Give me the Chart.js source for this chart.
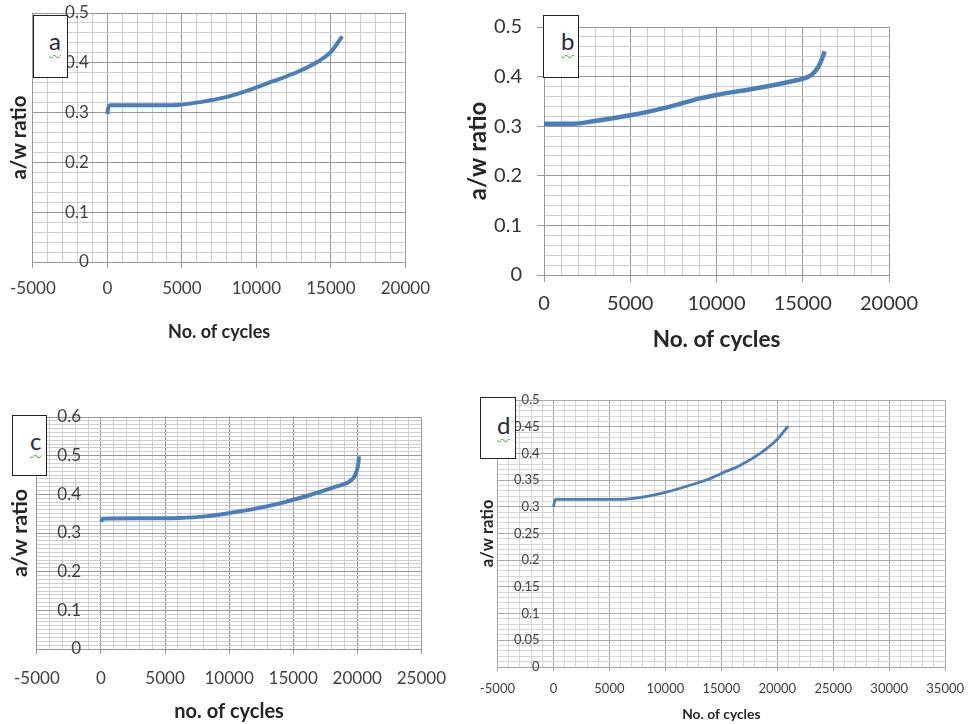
<!DOCTYPE html>
<html>
<head>
<meta charset="utf-8">
<script src="https://cdn.jsdelivr.net/npm/chart.js@4.4.1/dist/chart.umd.min.js"></script>
<style>
  body { margin: 0; width: 974px; height: 724px; position: relative; overflow: hidden; background: #fff; font-family: Lato, sans-serif; }
  .panel { position: absolute; }
  .panel canvas { display: block; }
  .tag { position: absolute; background: #fff; border: 1.5px solid #222; box-sizing: border-box; }
  .tag span { position: absolute; font-size: 24px; line-height: 24px; color: #262c3a;
    text-decoration: underline wavy #3f9f3f; text-decoration-thickness: 1px; text-underline-offset: 4px; }
</style>
</head>
<body>
<div class="panel" style="left:0;top:0"><canvas id="chartA" width="440" height="350"></canvas></div>
<div class="panel" style="left:462px;top:0"><canvas id="chartB" width="512" height="360"></canvas></div>
<div class="panel" style="left:0;top:400px"><canvas id="chartC" width="460" height="324"></canvas></div>
<div class="panel" style="left:470px;top:390px"><canvas id="chartD" width="504" height="334"></canvas></div>

<div class="tag" style="left:33px;top:15px;width:35px;height:63px"><span style="left:15px;top:13px">a</span></div>
<div class="tag" style="left:543px;top:15px;width:36px;height:63px"><span style="left:17px;top:13px">b</span></div>
<div class="tag" style="left:12px;top:415px;width:35px;height:61px"><span style="left:17px;top:13px">c</span></div>
<div class="tag" style="left:480px;top:397px;width:36px;height:62px"><span style="left:16px;top:15px">d</span></div>

<script>
// (a) values
const aCycles = [0, 90, 260, 2000, 4440, 5000, 6200, 7960, 9500, 11030, 12790, 14110, 15000, 15760];
const aRatio  = [0.297, 0.314, 0.315, 0.315, 0.315, 0.316, 0.321, 0.331, 0.345, 0.362, 0.382, 0.402, 0.422, 0.453];
const aXTicks = [-5000, 0, 5000, 10000, 15000, 20000];
const aYTicks = [0, 0.1, 0.2, 0.3, 0.4, 0.5];

// (b)
const bCycles = [0, 1700, 2860, 5000, 6530, 7880, 9030, 10000, 11350, 12900, 14440, 15020, 15500, 15890, 16140, 16270];
const bRatio  = [0.305, 0.305, 0.310, 0.322, 0.333, 0.345, 0.356, 0.363, 0.371, 0.380, 0.391, 0.396, 0.403, 0.419, 0.438, 0.451];
const bXTicks = [0, 5000, 10000, 15000, 20000];
const bYTicks = [0, 0.1, 0.2, 0.3, 0.4, 0.5];

// (c)
const cCycles = [0, 130, 3000, 6090, 8160, 10100, 12050, 14120, 16190, 18260, 19430, 19820, 20080, 20130];
const cRatio  = [0.329, 0.337, 0.338, 0.339, 0.343, 0.352, 0.363, 0.378, 0.397, 0.419, 0.434, 0.449, 0.479, 0.498];
const cXTicks = [-5000, 0, 5000, 10000, 15000, 20000, 25000];
const cYTicks = [0, 0.1, 0.2, 0.3, 0.4, 0.5, 0.6];

// (d)
const dCycles = [0, 180, 3000, 6100, 8470, 10000, 12000, 13760, 15000, 16700, 18470, 19940, 20970];
const dRatio  = [0.300, 0.314, 0.314, 0.314, 0.320, 0.327, 0.339, 0.351, 0.3625, 0.378, 0.400, 0.425, 0.451];
const dXTicks = [-5000, 0, 5000, 10000, 15000, 20000, 25000, 30000, 35000];
const dYTicks = [0, 0.05, 0.1, 0.15, 0.2, 0.25, 0.3, 0.35, 0.4, 0.45, 0.5];

const FONT = 'Lato, sans-serif';
const TITLE_COLOR = '#262626';

function isMajor(list, v) {
  return list.some(t => Math.abs(t - v) < 1e-9);
}
function fmt(v) {
  return String(+v.toFixed(2));
}

function makeChart(id, o) {
  const major = o.major || '#999999';
  const minor = o.minor || '#cdcdcd';
  const tickColor = o.tickColor || '#404040';
  const xMaj = c => c.tick && isMajor(o.xTicks, c.tick.value);
  const yMaj = c => c.tick && isMajor(o.yTicks, c.tick.value);
  const xMin = o.xTicks[0], xMax = o.xTicks[o.xTicks.length - 1];
  const yMin = o.yTicks[0], yMax = o.yTicks[o.yTicks.length - 1];

  const scales = {
    x: {
      type: 'linear', position: 'bottom', min: xMin, max: xMax,
      ticks: {
        stepSize: 1000, autoSkip: false, maxRotation: 0, padding: o.xPad,
        font: { family: FONT, size: o.tickSize }, color: tickColor,
        callback: v => isMajor(o.xTicks, v) ? v : ''
      },
      grid: {
        color: c => xMaj(c) ? major : minor,
        tickLength: o.xTickLen,
        tickColor: c => xMaj(c) ? major : 'rgba(0,0,0,0)'
      },
      border: { color: major },
      title: {
        display: true, text: o.xTitle, color: TITLE_COLOR,
        font: { family: FONT, size: o.xTitleSize, weight: 'bold' },
        padding: { top: 0, bottom: o.xTitlePad }
      },
      afterFit: s => { s.height = o.xHeight; }
    },
    y: {
      type: 'linear', position: 'left', min: yMin, max: yMax,
      ticks: {
        display: o.yAtLeft, stepSize: o.yMinor, autoSkip: false, padding: o.yPad || 0,
        font: { family: FONT, size: o.tickSize }, color: tickColor,
        callback: v => isMajor(o.yTicks, v) ? fmt(v) : ''
      },
      grid: {
        color: c => yMaj(c) ? major : minor,
        drawTicks: o.yAtLeft, tickLength: o.yTickLen || 0,
        tickColor: c => yMaj(c) ? major : 'rgba(0,0,0,0)'
      },
      border: { color: major },
      title: {
        display: true, text: 'a/w ratio', color: TITLE_COLOR,
        font: { family: FONT, size: o.yTitleSize, weight: 'bold' },
        padding: { top: o.yTitlePad, bottom: 0 }
      },
      afterFit: s => { s.width = o.yWidth; }
    }
  };

  // value labels sitting just left of the x = 0 axis
  if (!o.yAtLeft) {
    scales.yl = {
      axis: 'y', type: 'linear', position: { x: o.labelAt }, min: yMin, max: yMax,
      afterBuildTicks: s => { s.ticks = o.yTicks.map(v => ({ value: v })); },
      ticks: {
        padding: 0, font: { family: FONT, size: o.tickSize }, color: tickColor,
        callback: v => fmt(v)
      },
      grid: { display: false, drawTicks: false },
      border: { display: false }
    };
  }

  return new Chart(document.getElementById(id), {
    type: 'scatter',
    data: {
      datasets: [{
        data: o.x.map((v, i) => ({ x: v, y: o.y[i] })),
        showLine: true,
        borderColor: '#4a7ebb',
        borderWidth: o.lineWidth,
        pointRadius: 0,
        cubicInterpolationMode: 'monotone',
        fill: false
      }]
    },
    options: {
      responsive: false,
      animation: false,
      layout: { padding: o.padding },
      plugins: { legend: { display: false }, tooltip: { enabled: false } },
      scales: scales
    }
  });
}

makeChart('chartA', {
  x: aCycles, y: aRatio, xTicks: aXTicks, yTicks: aYTicks, yMinor: 0.02,
  xTitle: 'No. of cycles', tickSize: 17, xTitleSize: 18, yTitleSize: 20.5, lineWidth: 4,
  padding: { left: 0, top: 13, right: 31, bottom: 6 },
  yWidth: 30, xHeight: 82, xPad: 10, xTickLen: 6, xTitlePad: 1, yTitlePad: 4,
  yAtLeft: false, labelAt: -1250
});

makeChart('chartB', {
  x: bCycles, y: bRatio, xTicks: bXTicks, yTicks: bYTicks, yMinor: 0.02,
  xTitle: 'No. of cycles', tickSize: 20, xTitleSize: 22.5, yTitleSize: 24, lineWidth: 4.5,
  tickColor: '#333333',
  padding: { left: 0, top: 15, right: 85, bottom: 5 },
  yWidth: 82, xHeight: 80, xPad: 10, xTickLen: 7, xTitlePad: 1.5, yTitlePad: 1.5,
  yAtLeft: true, yPad: 15, yTickLen: 7
});

makeChart('chartC', {
  x: cCycles, y: cRatio, xTicks: cXTicks, yTicks: cYTicks, yMinor: 0.01,
  xTitle: 'no. of cycles', tickSize: 17, xTitleSize: 20, yTitleSize: 21.5, lineWidth: 4,
  padding: { left: 0, top: 17, right: 37, bottom: 0 },
  yWidth: 35, xHeight: 75, xPad: 14, xTickLen: 5, xTitlePad: 0, yTitlePad: 5,
  yAtLeft: false, labelAt: -1550
});

makeChart('chartD', {
  x: dCycles, y: dRatio, xTicks: dXTicks, yTicks: dYTicks, yMinor: 0.01,
  xTitle: 'No. of cycles', tickSize: 13, xTitleSize: 13.8, yTitleSize: 16.5, lineWidth: 2.8,
  major: '#a8a8a8', minor: '#d6d6d6',
  padding: { left: 0, top: 10, right: 24, bottom: 0 },
  yWidth: 27, xHeight: 57, xPad: 10, xTickLen: 4, xTitlePad: 1, yTitlePad: 7.5,
  yAtLeft: false, labelAt: -1240
});
</script>
</body>
</html>
